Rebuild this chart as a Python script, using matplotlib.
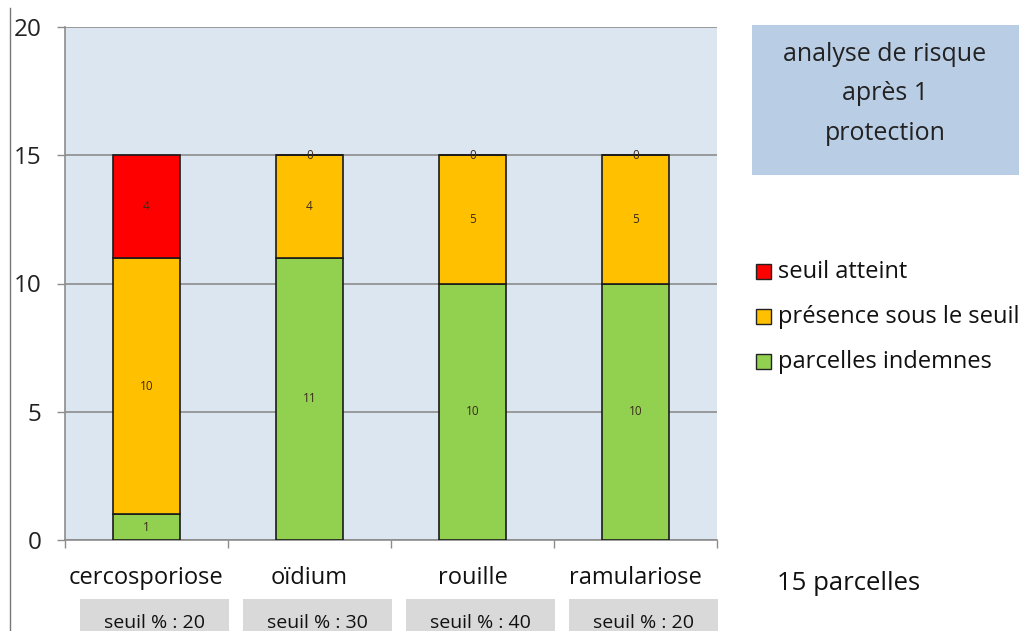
import matplotlib
matplotlib.use("Agg")
import matplotlib.pyplot as plt
from matplotlib.patches import Rectangle
import numpy as np

categories = ["cercosporiose", "oïdium", "rouille", "ramulariose"]
seuils = ["seuil % : 20", "seuil % : 30", "seuil % : 40", "seuil % : 20"]
indemnes = [1, 11, 10, 10]
presence = [10, 4, 5, 5]
atteint = [4, 0, 0, 0]
series_names = ["seuil atteint", "présence sous le seuil", "parcelles indemnes"]
title_text = "analyse de risque\naprès 1\nprotection"
note_text = "15 parcelles"
yticks = [0, 5, 10, 15, 20]

plt.rcParams['font.family'] = ['Open Sans', 'DejaVu Sans']

W, H = 1027, 631
fig = plt.figure(figsize=(W / 100, H / 100), dpi=100)
fig.patch.set_facecolor("white")

x0, x1 = 65, 717
y0, y1 = 540, 27
ax = fig.add_axes([x0 / W, 1 - y0 / H, (x1 - x0) / W, (y0 - y1) / H])
ax.set_facecolor("#DCE6F1")
ax.set_xlim(0, 4)
ax.set_ylim(0, 20)

x = np.arange(len(categories)) + 0.5
bw = 0.405
c_red, c_or, c_gr = "#FF0000", "#FFC000", "#92D050"
ind = np.array(indemnes)
pre = np.array(presence)
att = np.array(atteint)
ax.bar(x, ind, bw, color=c_gr, edgecolor="#1a1a1a", linewidth=1.2, zorder=3)
ax.bar(x, pre, bw, bottom=ind, color=c_or, edgecolor="#1a1a1a", linewidth=1.2, zorder=3)
ax.bar(x, att, bw, bottom=ind + pre, color=c_red, edgecolor="#1a1a1a", linewidth=1.2, zorder=3)

lab_kw = dict(ha="center", va="center", fontsize=8.5, color="#3a2a1a", zorder=4)
for i in range(len(categories)):
    ax.text(x[i], ind[i] / 2, str(ind[i]), **lab_kw)
    ax.text(x[i], ind[i] + pre[i] / 2, str(pre[i]), **lab_kw)
    ax.text(x[i], ind[i] + pre[i] + att[i] / 2, str(att[i]), **lab_kw)

ax.set_yticks(yticks)
ax.set_yticklabels([str(v) for v in yticks], fontsize=17.5, color="#222222")
ax.yaxis.grid(True, color="#8c8c8c", linewidth=1.2, zorder=1)
ax.set_axisbelow(True)
ax.set_xticks([0, 1, 2, 3, 4])
ax.set_xticklabels([])
ax.tick_params(axis="x", length=6, color="#8c8c8c", width=1)
ax.tick_params(axis="y", length=6, color="#8c8c8c", width=1, pad=11)
for s in ["top", "right"]:
    ax.spines[s].set_visible(False)
ax.spines["left"].set_color("#8c8c8c")
ax.spines["bottom"].set_color("#8c8c8c")
ax.spines["left"].set_linewidth(1.2)
ax.spines["bottom"].set_linewidth(1.2)

for i, c in enumerate(categories):
    ax.text(x[i], -1.48, c, ha="center", va="center", fontsize=17, color="#111111",
            clip_on=False, zorder=5)

# seuil boxes
box_x = [(80, 229), (243, 392), (406, 555), (569, 718)]
for (bx0, bx1), s in zip(box_x, seuils):
    fig.patches.append(Rectangle((bx0 / W, 0), (bx1 - bx0) / W, (H - 599) / H,
                                 transform=fig.transFigure, facecolor="#D9D9D9",
                                 edgecolor="none", zorder=-1))
    fig.text((bx0 + bx1) / 2 / W, 1 - 623 / H, s, ha="center", va="center", fontsize=14,
             color="#111111")

# title box
fig.patches.append(Rectangle((752 / W, 1 - 175 / H), (1019 - 752) / W, (175 - 25) / H,
                             transform=fig.transFigure, facecolor="#B9CDE5",
                             edgecolor="none", zorder=-1))
fig.text(885 / W, 1 - 94 / H, title_text, ha="center", va="center", fontsize=18,
         color="#222222", linespacing=1.75)

# legend
leg_y = [272, 317, 362]
leg_c = [c_red, c_or, c_gr]
for yy, cc, nm in zip(leg_y, leg_c, series_names):
    fig.patches.append(Rectangle((756 / W, 1 - (yy + 7) / H), 15 / W, 15 / H,
                                 transform=fig.transFigure, facecolor=cc,
                                 edgecolor="#222222", linewidth=1))
    fig.text(778 / W, 1 - yy / H, nm, ha="left", va="center", fontsize=17, color="#111111")

fig.text(777 / W, 1 - 583 / H, note_text, ha="left", va="center", fontsize=18.5, color="#111111")

# left frame line
fig.add_artist(plt.Line2D([10 / W, 10 / W], [0, 1 - 8 / H], transform=fig.transFigure,
                          color="#777777", linewidth=1))

fig.savefig("out.png", dpi=100)
